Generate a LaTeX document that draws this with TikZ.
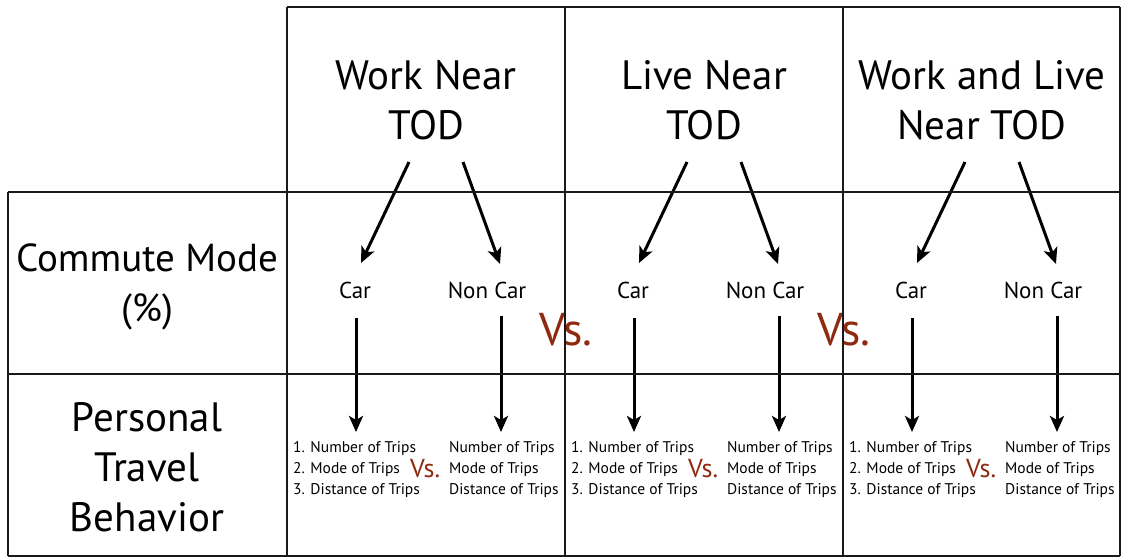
\documentclass[tikz,border=0pt]{standalone}
\usepackage{fontspec}
\setmainfont{PT Sans}
\usetikzlibrary{arrows.meta}
\definecolor{vsred}{HTML}{8E2A10}
\begin{document}
\begin{tikzpicture}[x=1pt,y=-1pt,
  grid/.style={line width=1.5pt, draw=black!90},
  arr/.style={line width=3pt, -{Stealth[length=16pt,width=14pt,inset=4pt]}},
  head/.style={font=\fontsize{41}{50}\selectfont, align=center, inner sep=0pt},
  opt/.style={font=\fontsize{23}{28}\selectfont, inner sep=0pt, anchor=base},
  lst/.style={font=\fontsize{15.5}{21}\selectfont, align=left, inner sep=0pt, anchor=north west},
  vsbig/.style={font=\fontsize{46}{46}\selectfont, text=vsred, inner sep=0pt, anchor=base west},
  vssmall/.style={font=\fontsize{26}{26}\selectfont, text=vsred, inner sep=0pt, anchor=base west}]
\useasboundingbox (0,0) rectangle (1130,558);
\fill[white] (0,0) rectangle (1130,558);

% row headers
\node[head, font=\fontsize{39}{50}\selectfont] (rowA) at (147,287) {Commute Mode\\(\%)};
\node[head] (rowB) at (147,467) {Personal\\Travel\\Behavior};

% big Vs between columns
\node[vsbig] (vsA) at (539,345) {Vs.};
\node[vsbig] (vsB) at (817,345) {Vs.};

\foreach \o/\i/\t in {0/1/{Work Near\\TOD},278/2/{Live Near\\TOD},556/3/{Work and Live\\Near TOD}}{
  \node[head] (h\i) at (426+\o,100) {\t};
  \node[opt] (c\i) at (355+\o,298) {Car};
  \node[opt] (n\i) at (487+\o,298) {Non Car};
  \coordinate (ds\i) at (409+\o,162);
  \coordinate (de\i) at (361+\o,263);
  \coordinate (es\i) at (463+\o,162);
  \coordinate (ee\i) at (500+\o,264);
  \coordinate (vs\i) at (356+\o,318);
  \coordinate (ve\i) at (356+\o,432);
  \coordinate (ws\i) at (501+\o,316);
  \coordinate (we\i) at (501+\o,432);
  \draw[arr] (ds\i) -- (de\i);
  \draw[arr] (es\i) -- (ee\i);
  \draw[arr] (vs\i) -- (ve\i);
  \draw[arr] (ws\i) -- (we\i);
  \node[lst] (l\i) at (293+\o,441) {1. Number of Trips\\2. Mode of Trips\\3. Distance of Trips};
  \node[lst] (r\i) at (449+\o,441) {Number of Trips\\Mode of Trips\\Distance of Trips};
  \node[vssmall] (s\i) at (410+\o,477) {Vs.};
}

% grid
\draw[grid] (287,7) -- (1120,7);
\draw[grid] (8,192) -- (1120,192);
\draw[grid] (8,374) -- (1120,374);
\draw[grid] (8,556) -- (1120,556);
\draw[grid] (8,192) -- (8,556);
\foreach \x in {287,565,843,1120}{\draw[grid] (\x,7) -- (\x,556);}
\end{tikzpicture}
\end{document}
